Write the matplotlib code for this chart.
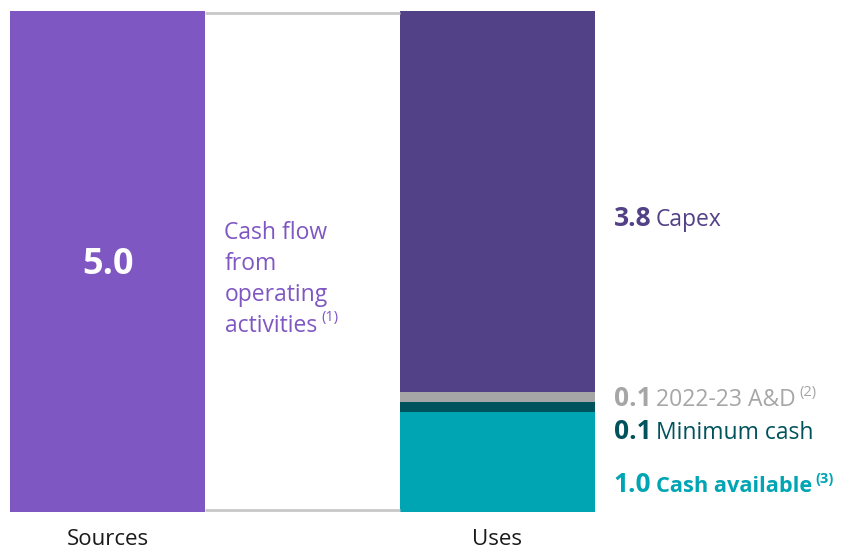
import matplotlib
matplotlib.use("Agg")
import matplotlib.pyplot as plt

plt.rcParams['font.family'] = ['Open Sans', 'DejaVu Sans']

# Sources and uses of cash (bn)
categories = ["Sources", "Uses"]
source_value = 5.0
source_label = ["Cash flow", "from", "operating", "activities"]
use_names = ["Cash available", "Minimum cash", "2022-23 A&D", "Capex"]
use_values = [1.0, 0.1, 0.1, 3.8]
use_notes = ["(3)", None, "(2)", None]

purple = "#7E57C2"
use_colors = ["#00A5B4", "#00535C", "#A6A6A6", "#524186"]
# baselines of the right-hand labels
use_label_y = [0.20, 0.73, 1.06, 2.855]
use_bold_name = [True, False, False, False]

fig = plt.figure(figsize=(8.5, 5.52), dpi=100)
ax = fig.add_axes([10 / 850, 40 / 552, 585 / 850, 501 / 552])
ax.set_xlim(-0.25, 1.25)
ax.set_ylim(0, 5.0)
ax.axis("off")

ax.bar(0, source_value, width=0.5, color=purple)
bottom = 0.0
for v, c in zip(use_values, use_colors):
    ax.bar(1, v, width=0.5, bottom=bottom, color=c)
    bottom += v

# thin connectors between the two columns
ax.hlines([source_value - 0.015, 0.02], 0.25, 0.75, color="#C8C8C8", lw=2)

ax.text(0, source_value / 2 - 0.03, f"{source_value:.1f}", color="white", fontsize=26,
        fontweight="bold", ha="center", va="center")

# multi-line label for the sources column, one line at a time
line = None
for i, s in enumerate(source_label):
    line = ax.annotate(s, xy=(0.30, 2.78), xytext=(0, -i * 22.3), textcoords="offset points",
                       color=purple, fontsize=16.5, ha="left", va="center")
fig.canvas.draw()
ax.annotate("(1)", xy=(1, 0.55), xycoords=line, xytext=(3, 0), textcoords="offset points",
            color=purple, fontsize=10.5, ha="left", va="bottom")

for i, name in enumerate(categories):
    ax.text(i, -0.165, name, color="#1A1A1A", fontsize=16, ha="center", va="top",
            clip_on=False)

for v, name, note, c, y, b in zip(use_values, use_names, use_notes, use_colors,
                                  use_label_y, use_bold_name):
    num = ax.text(1.298, y, f"{v:.1f}", color=c, fontsize=19, fontweight="bold",
                  ha="left", va="baseline", clip_on=False)
    lab = ax.annotate(name, xy=(1, y), xycoords=(num, "data"), xytext=(3, 0),
                      textcoords="offset points", color=c,
                      fontsize=15.7 if b else 16.5,
                      fontweight="bold" if b else "normal", ha="left", va="baseline")
    if note:
        ax.annotate(note, xy=(1, 0.5), xycoords=lab, xytext=(3, 0),
                    textcoords="offset points", color=c, fontsize=10.5,
                    fontweight="bold" if b else "normal", ha="left", va="bottom")

fig.savefig("out.png", dpi=100)
